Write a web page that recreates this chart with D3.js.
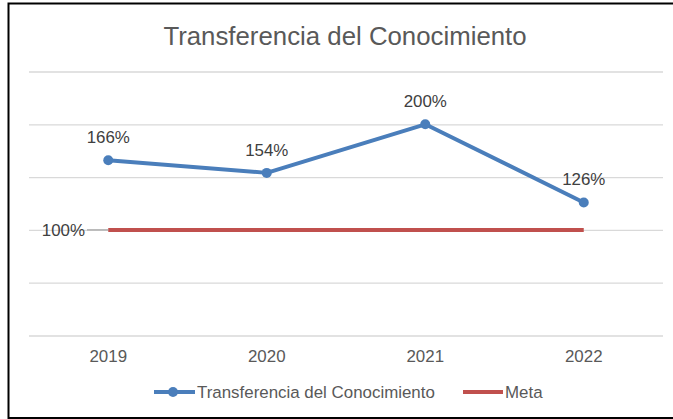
<!DOCTYPE html>
<html>
<head>
<meta charset="utf-8">
<script src="https://cdn.jsdelivr.net/npm/d3@7"></script>
<style>
html,body{margin:0;padding:0;background:#fff;}
svg{display:block;font-family:"Liberation Sans",Arial,sans-serif;}
</style>
</head>
<body>
<svg id="chart" width="673" height="419"></svg>
<script>
const title = "Transferencia del Conocimiento";
const categories = ["2019", "2020", "2021", "2022"];
const seriesName = "Transferencia del Conocimiento";
const seriesValues = [166, 154, 200, 126];
const metaName = "Meta";
const metaValues = [100, 100, 100, 100];
const yTicks = [0, 50, 100, 150, 200, 250];

const svg = d3.select("#chart");
const W = 673, H = 419;
const plot = {left: 29, right: 663, top: 71.5, bottom: 335.5};
const fs = 16.9;

const x = d3.scaleBand().domain(categories).range([plot.left, plot.right]).padding(0);
const cx = d => x(d) + x.bandwidth() / 2;
const y = d3.scaleLinear().domain([0, 250]).range([plot.bottom, plot.top]);

// border
svg.append("path")
  .attr("d", `M${W + 5},3.5 H8.5 V418 H${W + 5}`)
  .attr("fill", "none").attr("stroke", "#000").attr("stroke-width", 2);

// title
svg.append("text")
  .attr("x", 345).attr("y", 45)
  .attr("text-anchor", "middle")
  .attr("font-size", 25.8)
  .attr("fill", "#595959")
  .text(title);

// gridlines
const yAxis = d3.axisLeft(y).tickValues(yTicks).tickSize(-(plot.right - plot.left)).tickFormat("");
const gy = svg.append("g").attr("transform", `translate(${plot.left},0)`).call(yAxis);
gy.select(".domain").remove();
gy.selectAll(".tick line").attr("stroke", "#d9d9d9").attr("stroke-width", 1.3);

// x axis labels
const xAxis = d3.axisBottom(x).tickSize(0).tickPadding(0);
const gx = svg.append("g").attr("transform", `translate(0,${plot.bottom})`).call(xAxis);
gx.select(".domain").remove();
gx.selectAll(".tick text")
  .attr("font-family", "Liberation Sans, Arial, sans-serif")
  .attr("font-size", fs).attr("fill", "#595959")
  .attr("dy", null).attr("y", 26);

// Meta line
const metaData = categories.map((c, i) => ({c, v: metaValues[i]}));
const line = d3.line().x(d => cx(d.c)).y(d => y(d.v));
svg.append("line")
  .attr("x1", 87).attr("x2", cx(categories[0]))
  .attr("y1", y(metaValues[0])).attr("y2", y(metaValues[0]))
  .attr("stroke", "#a6a6a6").attr("stroke-width", 1.3);
svg.append("path").datum(metaData)
  .attr("d", line).attr("fill", "none")
  .attr("stroke", "#c0504d").attr("stroke-width", 4);
svg.append("text")
  .attr("x", 85).attr("y", y(metaValues[0]) + 6)
  .attr("text-anchor", "end")
  .attr("font-size", fs).attr("fill", "#404040")
  .text(metaValues[0] + "%");

// main series
const sData = categories.map((c, i) => ({c, v: seriesValues[i]}));
svg.append("path").datum(sData)
  .attr("d", line).attr("fill", "none")
  .attr("stroke", "#4a7ebb").attr("stroke-width", 4)
  .attr("stroke-linejoin", "round");
svg.selectAll("circle.pt").data(sData).enter().append("circle")
  .attr("class", "pt")
  .attr("cx", d => cx(d.c)).attr("cy", d => y(d.v)).attr("r", 5)
  .attr("fill", "#4a7ebb");
svg.selectAll("text.lbl").data(sData).enter().append("text")
  .attr("class", "lbl")
  .attr("x", d => cx(d.c)).attr("y", d => y(d.v) - 17)
  .attr("text-anchor", "middle")
  .attr("font-size", fs).attr("fill", "#404040")
  .text(d => d.v + "%");

// legend
const lg = svg.append("g");
lg.append("line").attr("x1", 154).attr("x2", 195).attr("y1", 392).attr("y2", 392)
  .attr("stroke", "#4a7ebb").attr("stroke-width", 4);
lg.append("circle").attr("cx", 173).attr("cy", 392).attr("r", 5).attr("fill", "#4a7ebb");
lg.append("text").attr("x", 197).attr("y", 397.5)
  .attr("font-size", fs).attr("fill", "#595959").text(seriesName);
lg.append("line").attr("x1", 463).attr("x2", 503).attr("y1", 392).attr("y2", 392)
  .attr("stroke", "#c0504d").attr("stroke-width", 4);
lg.append("text").attr("x", 505).attr("y", 397.5)
  .attr("font-size", fs).attr("fill", "#595959").text(metaName);
</script>
</body>
</html>
